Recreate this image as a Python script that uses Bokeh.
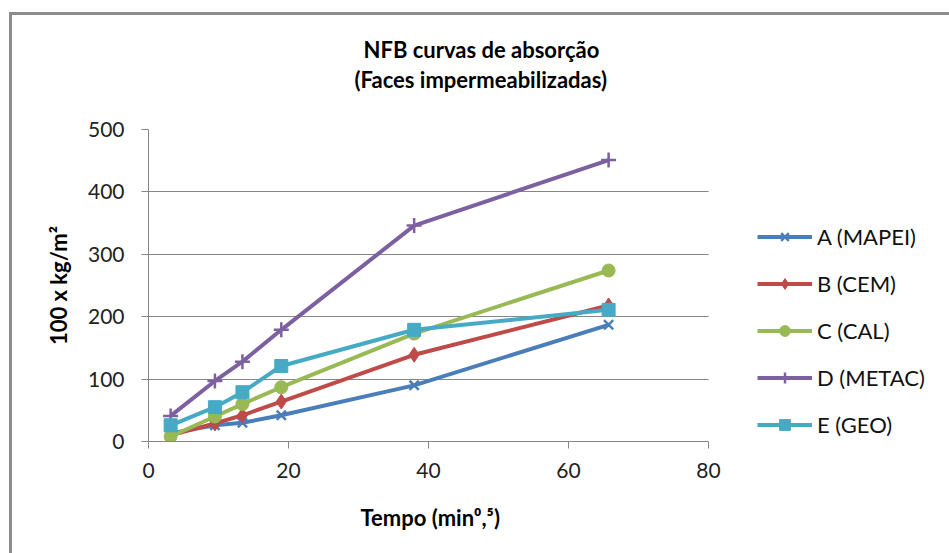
from bokeh.plotting import figure
from bokeh.models import Legend, LegendItem, Title, FixedTicker, Range1d
from bokeh.embed import file_html
from bokeh.resources import INLINE

# ---- data ----
tempo = [3.16, 9.49, 13.42, 18.97, 37.95, 65.73]
serie_a = [13, 26, 30, 42, 90, 187]
serie_b = [10, 29, 42, 64, 139, 218]
serie_c = [8, 40, 60, 87, 173, 274]
serie_d = [41, 97, 128, 179, 346, 451]
serie_e = [26, 55, 79, 121, 179, 211]
names = ["A (MAPEI)", "B (CEM)", "C (CAL)", "D (METAC)", "E (GEO)"]
x_ticks = [0, 20, 40, 60, 80]
y_ticks = [0, 100, 200, 300, 400, 500]
title_lines = ["NFB curvas de absorção", "(Faces impermeabilizadas)"]
x_label = "Tempo (min⁰,⁵)"
y_label = "100 x kg/m²"

FONT = "Lato"
GRID = "#868686"
BORDER = "#8c8c8c"

# plot frame spans 148..940 px; x axis (0..80) occupies 148..708 px
X_MAX_AXIS = 80
X_MAX_FRAME = X_MAX_AXIS * (940 - 148) / (708 - 148)

p = figure(width=949, height=553, output_backend="svg", toolbar_location=None,
           x_range=Range1d(0, X_MAX_FRAME), y_range=Range1d(0, 500),
           min_border_left=148, min_border_right=9, min_border_top=129, min_border_bottom=112)
p.outline_line_color = None
p.background_fill_color = "white"
p.border_fill_alpha = 0
p.styles = {
    "background": (f"linear-gradient({BORDER},{BORDER}) 9px 12px / 3px 100% no-repeat, "
                   f"linear-gradient({BORDER},{BORDER}) 9px 12px / 100% 3px no-repeat, white"),
}

p.xgrid.grid_line_color = None
grid = p.ygrid[0]
grid.grid_line_color = GRID
grid.grid_line_width = 1
if "cross_bounds" in grid.properties():
    grid.cross_bounds = (0, X_MAX_AXIS)

p.xaxis.ticker = FixedTicker(ticks=x_ticks)
p.yaxis.ticker = FixedTicker(ticks=y_ticks)
p.xaxis.bounds = (0, X_MAX_AXIS)
for ax in (p.xaxis[0], p.yaxis[0]):
    ax.axis_line_color = GRID
    ax.major_tick_line_color = GRID
    ax.major_tick_in = 0
    ax.major_tick_out = 7
    ax.minor_tick_line_color = None
    ax.major_label_text_font = FONT
    ax.major_label_text_font_size = "21px"
    ax.major_label_text_color = "#222222"
    ax.axis_label_text_font = FONT
    ax.axis_label_text_font_size = "22px"
    ax.axis_label_text_font_style = "bold"
    ax.axis_label_text_color = "#000000"

p.yaxis.axis_label = y_label
p.xaxis.major_label_standoff = 14
p.yaxis.major_label_standoff = 17
p.yaxis.axis_label_standoff = 13

colors = ["#4A7EBB", "#BE4B48", "#98B954", "#7D60A0", "#46AAC5"]
markers = ["x", "diamond", "circle", "cross", "square"]
sizes = [13, 15, 13, 15, 13]
series = [serie_a, serie_b, serie_c, serie_d, serie_e]

items = []
for name, ys, col, mk, sz in zip(names, series, colors, markers, sizes):
    ln = p.line(tempo, ys, line_color=col, line_width=4)
    sc = p.scatter(tempo, ys, marker=mk, size=sz, fill_color=col, line_color=col,
                   line_width=2.5 if mk in ("x", "cross") else 1)
    items.append(LegendItem(label=name, renderers=[ln, sc]))

legend = Legend(items=items, location=(609, 3), orientation="vertical",
                glyph_width=55, glyph_height=27, label_height=27, spacing=20,
                label_standoff=5, padding=0, margin=0,
                border_line_color=None, background_fill_alpha=0,
                label_text_font=FONT, label_text_font_size="22px",
                label_text_color="#111111")
p.add_layout(legend)

# ---- titles (stacked outward from the frame) ----
p.add_layout(Title(text="\u00a0", standoff=11, text_font=FONT, text_font_size="20px"), "above")
p.add_layout(Title(text=title_lines[1], align="left", offset=206, standoff=0,
                   text_font=FONT, text_font_size="22px", text_font_style="bold",
                   text_color="#000000"), "above")
p.add_layout(Title(text=title_lines[0], align="left", offset=215, standoff=2,
                   text_font=FONT, text_font_size="22px", text_font_style="bold",
                   text_color="#000000"), "above")

# x axis label as a title below the axis, centred on the 0..80 span
p.add_layout(Title(text=x_label, align="left", offset=212, standoff=42,
                   text_font=FONT, text_font_size="22px", text_font_style="bold",
                   text_color="#000000"), "below")

open("out.html", "w").write(file_html(p, INLINE))
